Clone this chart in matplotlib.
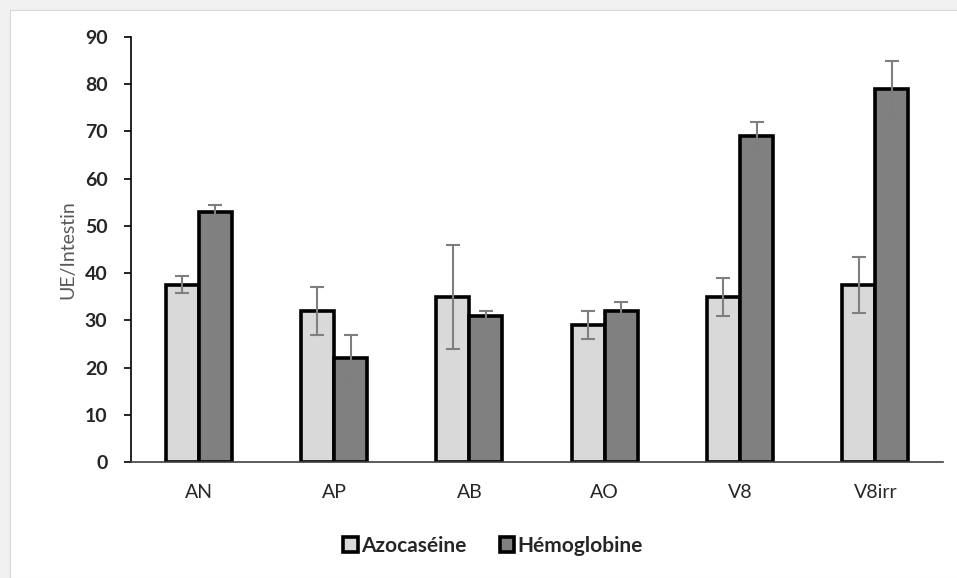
import matplotlib
matplotlib.use("Agg")
import matplotlib.pyplot as plt
from matplotlib.patches import Rectangle
import numpy as np

categories = ["AN", "AP", "AB", "AO", "V8", "V8irr"]
azocaseine = [37.5, 32, 35, 29, 35, 37.5]
azocaseine_err = [1.8, 5, 11, 3, 4, 6]
hemoglobine = [53, 22, 31, 32, 69, 79]
hemoglobine_err = [1.5, 4.8, 1, 1.8, 3, 6]
yticks = [0, 10, 20, 30, 40, 50, 60, 70, 80, 90]

plt.rcParams['font.family'] = ['Lato', 'DejaVu Sans']

fig = plt.figure(figsize=(9.57, 5.78), dpi=100)
fig.patch.set_facecolor('#f0f0f0')
fig.patches.append(Rectangle((10/957, 0), 1, 1 - 10/578, transform=fig.transFigure,
                             facecolor='white', edgecolor='#d9d9d9', linewidth=0.8, zorder=-5))

ax = fig.add_axes([131/957, 1 - 462/578, (943 - 131)/957, (462 - 37)/578])
ax.set_facecolor('none')
ax.set_zorder(2)

x = np.arange(len(categories))
w = 0.245
err_kw = dict(ecolor='#7f7f7f', elinewidth=1.5, capsize=5, capthick=1.5)
ax.bar(x - w/2, azocaseine, w, yerr=azocaseine_err, color='#d9d9d9',
       edgecolor='black', linewidth=2.6, label='Azocaséine', error_kw=err_kw, zorder=2)
ax.bar(x + w/2, hemoglobine, w, yerr=hemoglobine_err, color='#808080',
       edgecolor='black', linewidth=2.6, label='Hémoglobine', error_kw=err_kw, zorder=2)

ax.set_xlim(-0.5, len(categories) - 0.5)
ax.set_ylim(0, 90)
ax.set_yticks(yticks)
ax.set_xticks(x)
ax.set_xticklabels(categories, fontsize=14, color='#262626')
ax.tick_params(axis='x', length=0, pad=16)
ax.tick_params(axis='y', length=5, width=1.2, direction='out', pad=12, labelsize=14)
for lab in ax.get_yticklabels():
    lab.set_fontweight('bold')
    lab.set_color('#262626')

for s in ['top', 'right']:
    ax.spines[s].set_visible(False)
ax.spines['left'].set_linewidth(1.2)
ax.spines['bottom'].set_linewidth(1.2)
ax.spines['bottom'].set_color('#404040')

ax.set_ylabel('UE/Intestin', fontsize=14, color='#595959', labelpad=6)

leg = fig.legend(loc='center', bbox_to_anchor=(493/957, 1 - 546/578), ncol=2, frameon=False,
                 handlelength=0.7, handleheight=0.7, handletextpad=0.15, columnspacing=1.6,
                 prop={'size': 15, 'weight': 'bold'})
for t in leg.get_texts():
    t.set_color('#262626')

fig.savefig('out.png', dpi=100, facecolor=fig.get_facecolor())
